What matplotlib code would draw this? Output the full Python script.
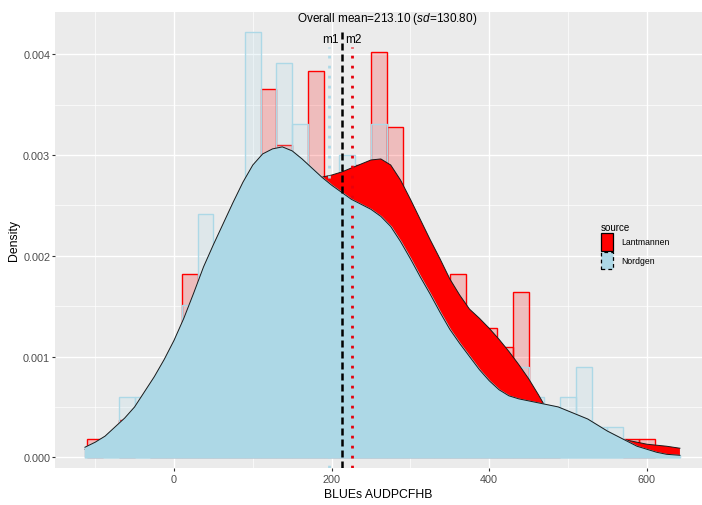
# 依赖: numpy, matplotlib
import numpy as np
import matplotlib
matplotlib.use("Agg")
import matplotlib.pyplot as plt
from matplotlib.patches import Patch

###############################数据###############################
# 直方图 (binwidth = 20, 左边界)
bin_left = [-110, -90, -70, -50, -30, -10, 10, 30, 50, 70, 90, 110, 130, 150,
            170, 190, 210, 230, 250, 270, 290, 310, 330, 350, 370, 390, 410,
            430, 450, 470, 490, 510, 530, 550, 570, 590, 610]
lant_hist = [0.00018, 0.0, 0.00037, 0.0, 0.00037, 0.00055, 0.00182, 0.0011,
             0.0015, 0.0018, 0.0025, 0.00365, 0.0031, 0.0027, 0.00383, 0.0024,
             0.0026, 0.0029, 0.00402, 0.00328, 0.0022, 0.0019, 0.0015, 0.00182,
             0.0013, 0.00128, 0.00109, 0.00164, 0.0004, 0.0002, 0.0, 0.0, 0.0,
             0.0, 0.00018, 0.00018, 0.0]
nord_hist = [0.0, 0.0, 0.0006, 0.0006, 0.0006, 0.0009, 0.00151, 0.00241,
             0.0018, 0.0021, 0.00422, 0.0027, 0.00391, 0.00331, 0.0027, 0.0025,
             0.0030, 0.0022, 0.00331, 0.0021, 0.0018, 0.0015, 0.0012, 0.0009,
             0.0006, 0.0006, 0.0006, 0.0009, 0.0006, 0.0003, 0.0006, 0.0009,
             0.0003, 0.0003, 0.0, 0.0, 0.0]

# 密度曲线
dens_x = [-113, -100, -87.5, -75, -62.5, -50, -37.5, -25, -12.5, 0,
          12.5, 25, 37.5, 50, 62.5, 75, 87.5, 100, 112.5, 125,
          137.5, 150, 162.5, 175, 187.5, 200, 212.5, 225, 237.5, 250,
          262.5, 275, 287.5, 300, 312.5, 325, 337.5, 350, 362.5, 375,
          387.5, 400, 412.5, 425, 437.5, 450, 462.5, 475, 487.5, 500,
          512.5, 525, 537.5, 550, 562.5, 575, 587.5, 600, 612.5, 625,
          642]
lant_dens = [0.00008, 0.00011, 0.00014, 0.00018, 0.00023, 0.00029, 0.00036, 0.00045, 0.00056, 0.00069,
             0.00085, 0.00103, 0.00123, 0.00144, 0.00165, 0.00186, 0.00206, 0.00225, 0.00241, 0.00254,
             0.00264, 0.00271, 0.00275, 0.00277, 0.00278, 0.00280, 0.00283, 0.00287, 0.00291, 0.00295,
             0.00296, 0.00290, 0.00275, 0.00256, 0.00236, 0.00216, 0.00197, 0.00177, 0.00161, 0.00147,
             0.00138, 0.00128, 0.00117, 0.00105, 0.00092, 0.00078, 0.00062, 0.00045, 0.00035, 0.00029,
             0.00025, 0.00022, 0.00020, 0.00018, 0.000175, 0.00017, 0.00015, 0.00013, 0.00012, 0.00011,
             0.00009]
nord_dens = [0.00010, 0.00015, 0.00021, 0.00030, 0.00039, 0.00050, 0.00065, 0.00080, 0.00097, 0.00116,
             0.00138, 0.00163, 0.00189, 0.00211, 0.00232, 0.00253, 0.00273, 0.00290, 0.00301, 0.00306,
             0.00308, 0.00304, 0.00296, 0.00287, 0.00278, 0.00270, 0.00263, 0.00256, 0.00251, 0.00246,
             0.00239, 0.00229, 0.00214, 0.00197, 0.00179, 0.00162, 0.00144, 0.00127, 0.00113, 0.00100,
             0.00087, 0.00076, 0.00067, 0.00061, 0.00058, 0.00056, 0.00054, 0.00052, 0.00050, 0.00046,
             0.00042, 0.00038, 0.00032, 0.00026, 0.00021, 0.00016, 0.00011, 0.00008, 0.00005, 0.00003,
             0.00002]

# 均值
overall_mean = 213.10
overall_sd = 130.80
nord_mean = 197   # m1
lant_mean = 226   # m2

x_ticks = [0, 200, 400, 600]
y_ticks = [0.000, 0.001, 0.002, 0.003, 0.004]

###############################样式###############################
plt.rcParams['font.family'] = ['Liberation Sans', 'DejaVu Sans']
plt.rcParams['mathtext.fontset'] = 'custom'
plt.rcParams['mathtext.rm'] = 'Liberation Sans'
plt.rcParams['mathtext.it'] = 'Liberation Sans:italic'

panel_bg = '#EBEBEB'
tick_col = '#4D4D4D'
y_lo, y_hi = -0.000106, 0.004418

fig = plt.figure(figsize=(7.02, 5.06), dpi=100)
ax = fig.add_axes([55 / 702, 1 - 469 / 506, (702 - 55) / 702, (469 - 13) / 506])
ax.set_facecolor(panel_bg)
ax.set_axisbelow(True)

###############################直方图###############################
# 高度为0的柱子不画
lx = [b for b, h in zip(bin_left, lant_hist) if h > 0]
lh = [h for h in lant_hist if h > 0]
nx = [b for b, h in zip(bin_left, nord_hist) if h > 0]
nh = [h for h in nord_hist if h > 0]
ax.bar(lx, lh, width=20, align='edge',
       facecolor=(1, 0, 0, 0.2), edgecolor='red', linewidth=1.0, zorder=2)
ax.bar(nx, nh, width=20, align='edge',
       facecolor=(173 / 255, 216 / 255, 230 / 255, 0.2), edgecolor='lightblue',
       linewidth=1.0, zorder=2)

###############################密度曲线###############################
ax.fill_between(dens_x, 0, lant_dens, facecolor='red', linewidth=0, zorder=3)
ax.plot(dens_x, lant_dens, color='#1a1a1a', linewidth=0.7, zorder=3)
# 蓝色填充带同色边框, 盖住柱子底边
ax.fill_between(dens_x, 0, nord_dens, facecolor='lightblue', edgecolor='lightblue',
                linewidth=1.2, zorder=4)
ax.plot(dens_x, nord_dens, color='#1a1a1a', linewidth=0.7, zorder=4)

###############################均值线###############################
ax.axvline(overall_mean, ymax=(0.00425 - y_lo) / (y_hi - y_lo),
           color='black', linewidth=1.8, dashes=(2.8, 1.6), zorder=5)
ax.axvline(nord_mean, ymax=(0.00407 - y_lo) / (y_hi - y_lo),
           color='lightblue', linewidth=2.0, dashes=(1, 2.6), zorder=5)
ax.axvline(lant_mean, ymax=(0.00407 - y_lo) / (y_hi - y_lo),
           color='#E8000B', linewidth=2.0, dashes=(1, 2.6), zorder=5)

ax.text(270, 0.00436, f"Overall mean={overall_mean:.2f} ($\\mathit{{sd}}$={overall_sd:.2f})",
        ha='center', va='center', fontsize=8.5, color='black', zorder=6)
ax.text(nord_mean + 2, 0.00415, "m1", ha='center', va='center', fontsize=8.5, zorder=6)
ax.text(lant_mean + 2, 0.00415, "m2", ha='center', va='center', fontsize=8.5, zorder=6)

###############################坐标轴###############################
ax.set_xlim(-151, 670)
ax.set_ylim(y_lo, y_hi)
ax.set_xticks(x_ticks)
ax.set_xticklabels([str(v) for v in x_ticks])
ax.set_yticks(y_ticks)
ax.set_yticklabels([f"{v:.3f}" for v in y_ticks])
ax.set_xticks([-100, 100, 300, 500], minor=True)
ax.set_yticks([0.0005, 0.0015, 0.0025, 0.0035], minor=True)
ax.grid(True, which='major', color='white', linewidth=1.0)
ax.grid(True, which='minor', color='white', linewidth=0.5)
ax.tick_params(which='major', length=2.5, width=0.8, color='#333333',
               labelsize=7.8, labelcolor=tick_col, pad=1)
ax.tick_params(axis='x', which='major', pad=2)
ax.tick_params(which='minor', length=0)
for sp in ax.spines.values():
    sp.set_visible(False)

ax.set_xlabel("BLUEs AUDPCFHB", fontsize=8.8, labelpad=3)
ax.set_ylabel("Density", fontsize=8.8, labelpad=2)

###############################图例###############################
handles = [Patch(facecolor='red', edgecolor='black', linewidth=0.9),
           Patch(facecolor='lightblue', edgecolor='black', linewidth=0.9,
                 linestyle=(0, (3, 2.5)))]
leg = fig.legend(handles, ['Lantmannen', 'Nordgen'], title='source',
                 loc='upper left', bbox_to_anchor=(601 / 702, 1 - 223 / 506),
                 frameon=False, fontsize=6.2, title_fontsize=7,
                 handlelength=1.4, handleheight=2.7, labelspacing=0.15,
                 handletextpad=0.9, borderpad=0, borderaxespad=0,
                 alignment='left')

fig.savefig("out.png", dpi=100)
